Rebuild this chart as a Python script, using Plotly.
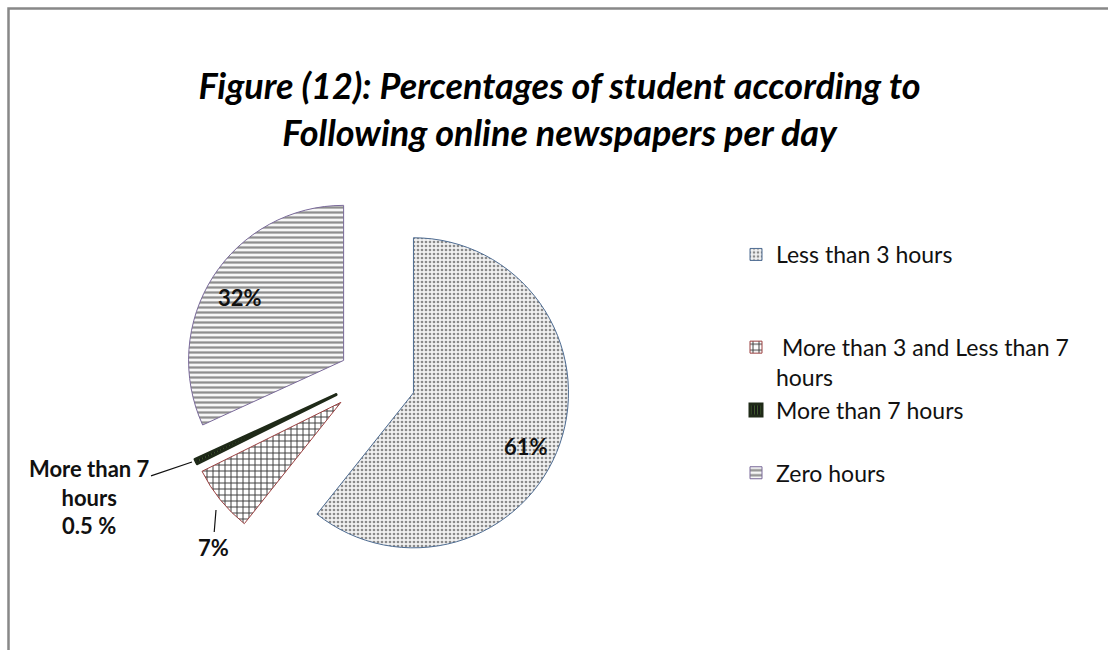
import plotly.graph_objects as go

# Share of students by daily time spent following online newspapers
categories = [
    "Less than 3 hours",
    " More than 3 and Less than 7 hours",
    "More than 7 hours",
    "Zero hours",
]
percentages = [61, 7, 0.5, 32]
slice_pull = [0.29, 0.25, 0.25, 0.21]

# Fill textures and outline colours per slice
pattern_shapes = [".", "+", "|", "-"]
pattern_fg = ["#8a8a8a", "#3c3c3c", "#3d5a2c", "#8e8e8e"]
pattern_bg = ["#f1f1f1", "#ffffff", "#151515", "#f6f6f6"]
pattern_size = [4, 6, 3, 5]
pattern_solidity = [0.35, 0.3, 0.4, 0.45]
outline_colors = ["#4f6d93", "#9b4040", "#1f2a18", "#7a6a9a"]
outline_widths = [1, 1, 3, 1]

# Legend spacing: blank lines after an entry push the next one down
legend_labels = [
    "Less than 3 hours<br> <br> ",
    " More than 3 and Less than 7<br>hours",
    "More than 7 hours<br> ",
    "Zero hours",
]

fig = go.Figure(
    go.Pie(
        labels=legend_labels,
        values=percentages,
        sort=False,
        direction="clockwise",
        rotation=0,
        pull=slice_pull,
        textinfo="none",
        hovertext=categories,
        hoverinfo="text+percent",
        marker=dict(
            colors=pattern_bg,
            line=dict(color=outline_colors, width=outline_widths),
            pattern=dict(
                shape=pattern_shapes,
                fgcolor=pattern_fg,
                bgcolor=pattern_bg,
                size=pattern_size,
                solidity=pattern_solidity,
                fillmode="replace",
            ),
        ),
        domain=dict(x=[0.1273, 0.5424], y=[0.1108, 0.7262]),
    )
)

label_font = dict(family="Lato, Calibri, sans-serif", size=22, color="#111111")

def pct(v):
    return f"<b>{v:g}%</b>"

annotations = [
    # in-slice labels for the two large slices
    dict(x=240 / 1108, y=1 - 297 / 650, text=pct(percentages[3]), showarrow=False),
    dict(x=526 / 1108, y=1 - 446 / 650, text=pct(percentages[0]), showarrow=False),
    # call-outs for the two thin slices
    dict(
        x=216 / 1108, y=1 - 510 / 650, text=pct(percentages[1]),
        showarrow=True, arrowhead=0, arrowwidth=1.2, arrowcolor="#111111",
        ax=-3, ay=37, standoff=0,
    ),
    dict(
        x=192 / 1108, y=1 - 462 / 650,
        text=f"<b>More than 7<br>hours<br>{percentages[2]:g} %</b>",
        showarrow=True, arrowhead=0, arrowwidth=1.2, arrowcolor="#111111",
        ax=-103, ay=35, standoff=0,
    ),
]
for a in annotations:
    a.update(xref="paper", yref="paper", xanchor="center", yanchor="middle",
             font=label_font)

fig.update_layout(
    width=1108,
    height=650,
    margin=dict(l=0, r=0, t=0, b=0),
    paper_bgcolor="white",
    plot_bgcolor="white",
    title=dict(
        text="<b><i>Figure (12): Percentages of student according to<br>"
             "Following online newspapers per day</i></b>",
        x=0.505,
        xanchor="center",
        y=1 - 99 / 650,
        yanchor="middle",
        yref="container",
        font=dict(family="Lato, Calibri, sans-serif", size=36, color="#000000"),
    ),
    showlegend=True,
    legend=dict(
        x=736 / 1108,
        y=1 - 233 / 650,
        xanchor="left",
        yanchor="top",
        valign="top",
        font=dict(family="Lato, Calibri, sans-serif", size=23, color="#111111"),
        bgcolor="rgba(0,0,0,0)",
    ),
    annotations=annotations,
    shapes=[
        # chart frame: top and left edges visible
        dict(
            type="rect", xref="paper", yref="paper",
            x0=8.5 / 1108, x1=1.05, y0=-0.05, y1=1 - 8.5 / 650,
            line=dict(color="#888888", width=2.5),
            fillcolor="rgba(0,0,0,0)",
        )
    ],
)

fig.write_html("out.html")
